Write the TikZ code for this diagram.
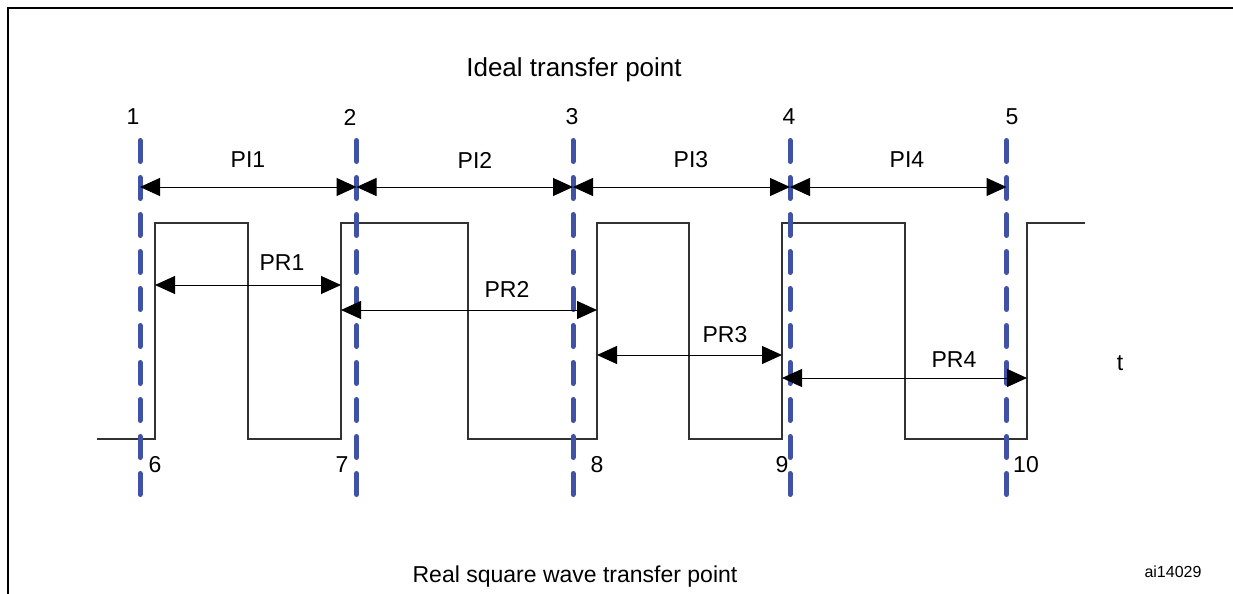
\documentclass[tikz,border=0pt]{standalone}
\usepackage{fontspec}
\setmainfont{Liberation Sans}
\usetikzlibrary{arrows.meta}
\definecolor{dashblue}{RGB}{63,82,165}
\definecolor{wavegray}{RGB}{50,50,50}
\tikzset{
  ideal/.style={draw=dashblue, line width=2.5pt, line cap=round, dash pattern=on 10.5pt off 8pt},
  wave/.style={draw=wavegray, line width=0.6pt},
  dim/.style={draw=black, line width=0.5pt, {Triangle[length=10pt,width=9pt]}-{Triangle[length=10pt,width=9pt]}},
  lbl/.style={inner sep=0pt, font=\fontsize{11.5pt}{13pt}\selectfont},
  frame/.style={draw=black, line width=1.4pt}
}
\begin{document}
\begin{tikzpicture}[x=0.5pt,y=-0.5pt]
\useasboundingbox (0,0) rectangle (1233,594);
% frame
\coordinate (fb) at (8,600);
\coordinate (fc) at (8,8);
\coordinate (fr) at (1240,8);
\draw[frame] (fb) -- (fc) -- (fr);

% ideal transfer lines
\foreach \i/\x in {1/140,2/356.5,3/573,4/790,5/1006.5}{
  \coordinate (t\i) at (\x,140.5);
  \coordinate (b\i) at (\x,494.5);
  \coordinate (a\i) at (\x,187);
}

% square wave
\coordinate (w0) at (97,439);
\coordinate (w1) at (155,439);  \coordinate (w1h) at (155,223);
\coordinate (w2) at (248,223);  \coordinate (w2l) at (248,439);
\coordinate (w3) at (341,439);  \coordinate (w3h) at (341,223);
\coordinate (w4) at (468,223);  \coordinate (w4l) at (468,439);
\coordinate (w5) at (597,439);  \coordinate (w5h) at (597,223);
\coordinate (w6) at (689,223);  \coordinate (w6l) at (689,439);
\coordinate (w7) at (782,439);  \coordinate (w7h) at (782,223);
\coordinate (w8) at (905,223);  \coordinate (w8l) at (905,439);
\coordinate (w9) at (1027,439); \coordinate (w9h) at (1027,223);
\coordinate (w10) at (1085,223);
\draw[wave] (w0) -- (w1) -- (w1h) -- (w2) -- (w2l) -- (w3) -- (w3h) -- (w4) -- (w4l)
  -- (w5) -- (w5h) -- (w6) -- (w6l) -- (w7) -- (w7h) -- (w8) -- (w8l) -- (w9) -- (w9h) -- (w10);

% PR arrow end points
\coordinate (p1a) at (155,285); \coordinate (p1b) at (341,285);
\coordinate (p2a) at (341,310); \coordinate (p2b) at (597,310);
\coordinate (p3a) at (597,355); \coordinate (p3b) at (782,355);
\coordinate (p4a) at (782,378); \coordinate (p4b) at (1027,378);

% blue dashed lines
\foreach \i in {1,...,5}{ \draw[ideal] (t\i) -- (b\i); }

% PI arrows
\draw[dim] (a1) -- (a2);
\draw[dim] (a2) -- (a3);
\draw[dim] (a3) -- (a4);
\draw[dim] (a4) -- (a5);

% PR arrows
\draw[dim] (p1a) -- (p1b);
\draw[dim] (p2a) -- (p2b);
\draw[dim] (p3a) -- (p3b);
\draw[dim] (p4a) -- (p4b);

% labels
\node[inner sep=0pt, font=\fontsize{13pt}{15pt}\selectfont] (title) at (574,70) {Ideal transfer point};
\node[lbl] (sub) at (575,577) {Real square wave transfer point};
\node[inner sep=0pt, font=\fontsize{8pt}{9pt}\selectfont] (ai) at (1173,572) {ai14029};
\node[lbl] (n1) at (133,117) {1};
\node[lbl] (n2) at (350,117) {2};
\node[lbl] (n3) at (572,117) {3};
\node[lbl] (n4) at (789,117) {4};
\node[lbl] (n5) at (1012,117) {5};
\node[lbl] (n6) at (155,465) {6};
\node[lbl] (n7) at (342,465) {7};
\node[lbl] (n8) at (597,465) {8};
\node[lbl] (n9) at (782,465) {9};
\node[lbl] (n10) at (1026,465) {10};
\node[lbl] (pi1) at (248,160) {PI1};
\node[lbl] (pi2) at (475,160) {PI2};
\node[lbl] (pi3) at (691,160) {PI3};
\node[lbl] (pi4) at (907,160) {PI4};
\node[lbl] (pr1) at (282,263) {PR1};
\node[lbl] (pr2) at (507,289) {PR2};
\node[lbl] (pr3) at (725,335) {PR3};
\node[lbl] (pr4) at (954,360) {PR4};
\node[lbl] (t) at (1120,363) {t};
\end{tikzpicture}
\end{document}
